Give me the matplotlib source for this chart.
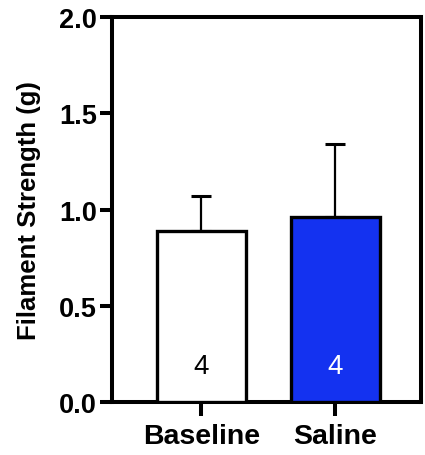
import numpy as np
import matplotlib
matplotlib.use("Agg")
import matplotlib.pyplot as plt

plt.rcParams['font.family'] = ['Liberation Sans', 'DejaVu Sans']

groups = ["Baseline", "Saline"]
means = [0.89, 0.96]
sem = [0.18, 0.38]
n_labels = ["4", "4"]
colors = ["white", "#1432F0"]
text_colors = ["black", "white"]
yticks = [0.0, 0.5, 1.0, 1.5, 2.0]

fig = plt.figure(figsize=(4.25, 4.56), dpi=100)
ax = fig.add_axes([0.2635, 0.1162, 0.7270, 0.8443])

x = np.arange(len(groups))
ax.bar(x, means, width=0.664, color=colors, edgecolor="black", linewidth=2.4, zorder=3)
ax.errorbar(x, means, yerr=[np.zeros(len(sem)), sem], fmt="none", ecolor="black",
            elinewidth=1.6, capsize=7, capthick=2.2, zorder=2)

for xi, lab, c in zip(x, n_labels, text_colors):
    ax.text(xi, 0.185, lab, ha="center", va="center", fontsize=20, color=c, zorder=4)

ax.set_xlim(-0.668, 1.638)
ax.set_ylim(0, 2.0)
ax.set_xticks(x)
ax.set_xticklabels(groups, fontsize=20.5, fontweight="bold")
ax.set_yticks(yticks)
ax.set_yticklabels(["%.1f" % v for v in yticks], fontsize=19.5, fontweight="bold")
ax.set_ylabel("Filament Strength (g)", fontsize=18.5, fontweight="bold", labelpad=13)

for s in ax.spines.values():
    s.set_linewidth(2.9)
ax.tick_params(axis="both", width=2.9, length=9, pad=2)
ax.tick_params(axis="x", length=10, pad=5)

fig.savefig("out.png", dpi=100)
